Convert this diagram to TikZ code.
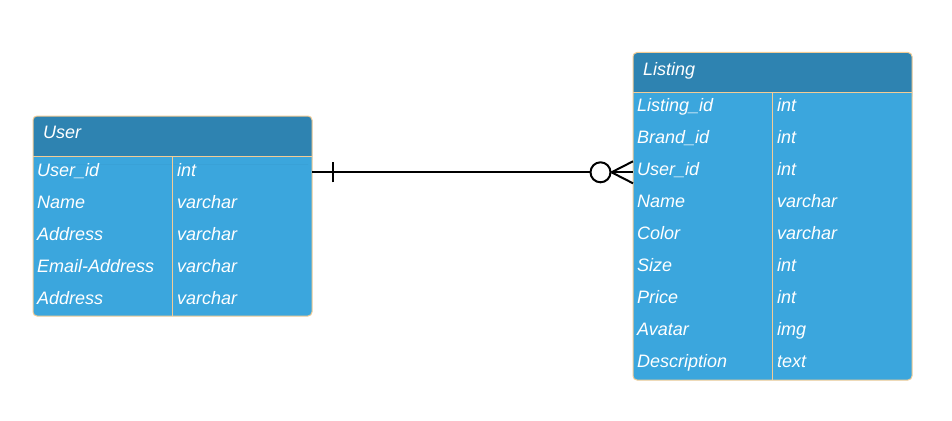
\documentclass[tikz,border=0pt]{standalone}
\usepackage{fontspec}
\setmainfont{Liberation Sans}
\definecolor{headc}{HTML}{2E83B1}
\definecolor{bodyc}{HTML}{3BA6DD}
\definecolor{edgec}{HTML}{F3CC95}
\tikzset{x=1pt,y=-1pt,
  cell/.style={anchor=base west,inner sep=0pt,text=white,font=\fontsize{18}{21}\selectfont\itshape},
  relline/.style={line width=2pt,black}}
\newcommand{\ertable}[6]{% x1,y1,x2,yh,y2,xd
  \fill[bodyc,rounded corners=4pt] (#1,#2) rectangle (#3,#5);
  \fill[headc,rounded corners=4pt] (#1,#2) rectangle (#3,#4+8);
  \fill[bodyc] (#1,#4) rectangle (#3,#4+8);
  \draw[edgec,line width=1pt,rounded corners=4pt] (#1,#2) rectangle (#3,#5);
  \draw[edgec,line width=1pt] (#1,#4) -- (#3,#4);
  \draw[edgec,line width=1pt] (#6,#4) -- (#6,#5);
}
\begin{document}
\begin{tikzpicture}
\useasboundingbox (0,0) rectangle (952,420);
% User table
\ertable{33}{116}{312}{156}{316}{172.5}
\node[cell] (uh) at (43,138.5) {User};
\foreach \n/\t/\y [count=\i] in {User\_id/int/176.5,Name/varchar/208.5,Address/varchar/240.5,Email-Address/varchar/272.5,Address/varchar/304.5}{
  \node[cell] (un\i) at (37,\y) {\n};
  \node[cell] (ut\i) at (177,\y) {\t};
}
% Listing table
\ertable{633}{52.5}{912}{92.5}{380}{772.5}
\node[cell] (lh) at (643,75.5) {Listing};
\foreach \n/\t/\y [count=\i] in {Listing\_id/int/111.5,Brand\_id/int/143.5,User\_id/int/175.5,Name/varchar/207.5,Color/varchar/239.5,Size/int/271.5,Price/int/303.5,Avatar/img/335.5,Description/text/367.5}{
  \node[cell] (ln\i) at (637,\y) {\n};
  \node[cell] (lt\i) at (777,\y) {\t};
}
% relation
\coordinate (ua) at (312,172.3);
\coordinate (lb) at (633,172.3);
\coordinate (bar) at (333,172.3);
\coordinate (circ) at (600.5,172.3);
\coordinate (foot) at (611.5,172.3);
\draw[relline] (ua) -- (circ);
\draw[relline] ([yshift=-10pt]bar) -- ([yshift=10pt]bar);
\draw[relline,fill=white] (circ) circle (10pt);
\draw[relline] (foot) -- (lb);
\draw[relline] (foot) -- ([yshift=-11pt]lb);
\draw[relline] (foot) -- ([yshift=11pt]lb);
\end{tikzpicture}
\end{document}
